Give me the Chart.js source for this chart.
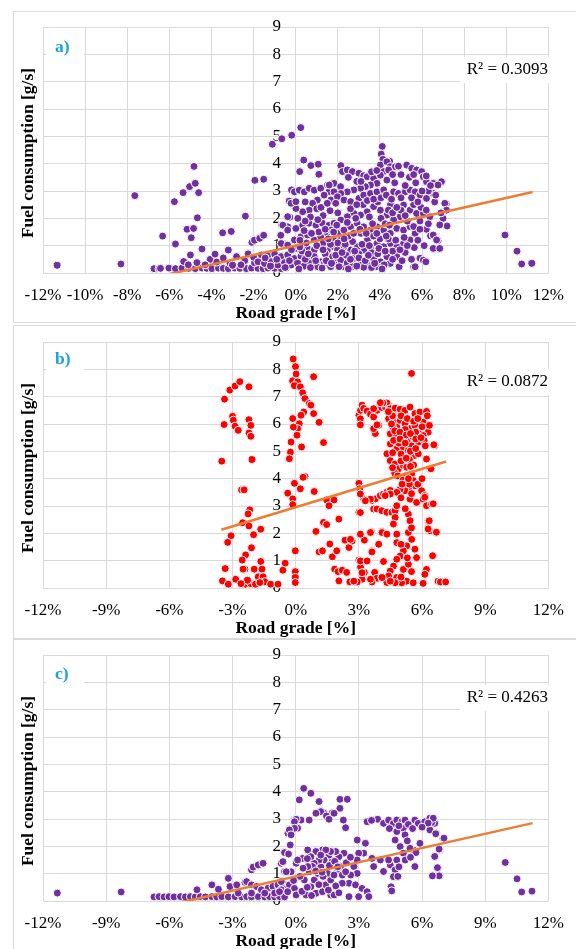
<!DOCTYPE html>
<html>
<head>
<meta charset="utf-8">
<script src="https://cdn.jsdelivr.net/npm/chart.js@4.4.1/dist/chart.umd.min.js"></script>
<style>
  body { margin: 0; background: #fff; width: 576px; height: 949px; overflow: hidden; position: relative; }
  .marco { position: absolute; left: 13px; width: 600px; border: 1px solid #d9d9d9; box-sizing: border-box; }
  canvas { position: absolute; left: 0; }
</style>
</head>
<body>
<div class="marco" style="top:11px;height:312px"></div>
<div class="marco" style="top:325px;height:314px"></div>
<div class="marco" style="top:639px;height:330px"></div>
<canvas id="graficaA" width="576" height="320" style="top:11px"></canvas>
<canvas id="graficaB" width="576" height="320" style="top:325px"></canvas>
<canvas id="graficaC" width="576" height="320" style="top:639px"></canvas>
<script>
// Datos: [pendiente %, consumo g/s]
const puntosA = [
  [-11.33,0.28],[-8.3,0.33],[-7.64,2.83],[-6.73,0.16],[-6.49,0.16],[-6.32,1.35],[-5.76,2.61],[-5.71,1.06],[-5.35,2.94],[-5.04,3.16],
  [-4.77,3.28],[-4.83,3.9],[-4.61,2.94],[-4.67,2.02],[-5.16,1.6],[-4.85,1.63],[-4.96,1.29],[-4.46,0.87],[-3.47,1.47],[-3.06,1.52],
  [-3.21,0.83],[-2.39,2.08],[-1.94,3.39],[-1.52,3.43],[-2.08,1.12],[-1.95,1.2],[-1.71,1.27],[-1.52,1.38],[-1.11,4.71],[-0.66,4.91],
  [-0.19,5.04],[-0.67,1.76],[-0.38,1.69],[-0.28,2.04],[-0.31,2.63],[-0.2,3.04],[-0.71,1.38],[-0.5,1.06],[0.24,5.32],[0.38,4.13],
  [0.19,3.71],[0.72,3.93],[1.07,3.98],[1.1,3.61],[1.63,2.28],[4.11,4.63],[4.06,4.35],[4.14,4.16],[4.46,4.09],[5.27,3.95],
  [4.91,0.23],[5.6,0.23],[9.94,1.39],[10.51,0.8],[10.73,0.33],[11.21,0.35],[6.95,3.34],[6.81,3.24],[7.15,2.52],[7.19,1.72],
  [6.81,0.9],[6.51,0.9],[6.4,1.36],[6.76,1.19],[6.16,0.44],[5.9,0.54],[5.63,0.93],
  [-6.42,0.17],[-6.02,0.18],[-5.71,0.16],[-5.4,0.18],[-5.08,0.17],[-4.77,0.16],[-4.45,0.18],[-4.22,0.17],[-3.98,0.16],[-3.67,0.18],
  [-3.44,0.17],[-3.2,0.16],[-2.89,0.18],[-2.65,0.17],[-2.34,0.16],[-2.1,0.18],[-1.79,0.17],[-1.55,0.16],[-1.32,0.18],[-1.0,0.17],
  [-0.69,0.16],[-0.45,0.18],
  [-5.32,0.42],[-5.0,0.66],[-4.69,0.38],[-4.45,0.88],[-4.06,0.5],[-3.83,0.69],[-3.75,0.4],[-3.44,0.55],[-3.2,0.84],[-3.12,0.36],
  [-2.81,0.6],[-2.42,0.45],[-2.26,0.7],[-1.95,0.38],[-4.3,0.3],[-5.1,0.3],[-3.0,0.28],[-2.6,0.3],[-2.0,0.58],
  [-0.06,2.97],[0.17,3.03],[0.41,2.97],[0.64,3.1],[0.88,3.03],[1.19,3.1],[1.51,3.22],[1.82,3.28],[2.13,3.16],[1.58,2.97],
  [1.35,2.85],[1.03,2.67],[0.8,2.55],[0.64,2.3],[0.33,2.24],[0.01,2.36],[-0.22,2.55],[0.01,2.61],[-0.38,2.06],[-0.61,1.75],
  [-0.38,1.57],[0.01,1.63],[0.33,1.75],[0.64,1.82],[0.96,1.75],[1.27,1.82],[1.58,1.75],[1.9,1.69],[2.21,1.57],[-0.06,1.21],
  [0.25,1.33],[0.56,1.39],[0.88,1.21],[1.19,1.33],[1.51,1.45],[1.82,1.21],[2.13,1.33],[-0.69,1.08],[-0.38,1.02],[0.01,0.9],
  [0.25,1.02],[0.56,0.9],[0.88,0.84],[1.19,0.96],[1.51,0.84],[1.82,0.96],[-1.63,0.66],[-1.32,0.62],[-1.0,0.69],[-0.69,0.6],
  [-0.38,0.66],[-0.06,0.53],[0.25,0.62],[0.56,0.47],[0.88,0.6],[1.19,0.41],[1.51,0.53],[1.82,0.41],[2.13,0.6],[-1.79,0.41],
  [-1.48,0.35],[-1.16,0.41],[-0.85,0.29],[-0.53,0.38],[-0.22,0.29],[0.09,0.35],[0.41,0.25],[0.72,0.35],[1.03,0.23],[1.35,0.33],
  [1.66,0.23],[1.98,0.29],[2.29,0.23],
  [2.14,3.93],[2.22,3.71],[2.45,3.77],[2.69,3.71],[3.0,3.65],[3.23,3.56],[3.39,3.52],[3.7,3.46],[4.02,3.95],[4.33,4.07],
  [4.49,3.89],[4.73,3.89],[4.88,3.91],[5.51,3.83],[5.74,3.77],[5.98,3.71],[6.06,3.52],[6.21,3.34],[6.53,3.28],[6.92,3.34],
  [6.76,3.22],[4.18,3.71],[4.41,3.77],[4.02,3.58],[4.33,3.4],[3.86,3.28],[3.55,3.22],[3.31,3.16],[3.08,3.1],[2.76,3.04],
  [2.45,2.97],[2.14,2.91],[1.82,2.97],[1.59,3.22],[1.67,2.67],[1.98,2.79],[2.29,2.67],[2.61,2.61],[3.0,2.73],[3.23,2.85],
  [3.55,2.91],[3.86,2.97],[4.18,3.04],[4.65,2.97],[4.88,2.91],[5.2,2.97],[5.43,3.04],[5.67,2.97],[5.9,2.85],[6.21,2.73],
  [6.53,2.91],[7.08,2.55],[7.16,2.3],[7.0,2.0],[6.84,1.76],[6.53,1.39],[6.69,1.21],[6.53,0.9],[6.84,0.9],[6.06,0.47],
  [6.18,0.41],[5.67,0.23],[4.49,0.35],[4.8,0.6],
  [5.12,2.49],[5.43,2.3],[5.74,2.18],[6.06,2.18],[6.37,2.06],[4.96,2.06],[4.65,1.94],[4.33,2.12],[4.02,2.3],[3.7,2.43],
  [3.39,2.24],[3.08,2.12],[2.76,2.18],[2.45,2.06],[2.14,1.94],[1.82,1.82],[1.67,1.57],[1.98,1.45],[2.29,1.57],[2.61,1.69],
  [2.92,1.82],[3.23,1.69],[3.55,1.57],[3.86,1.69],[4.18,1.57],[4.49,1.45],[4.8,1.63],[5.12,1.57],[5.43,1.69],[5.67,1.45],
  [5.43,1.21],[5.12,1.08],[4.8,0.96],[4.49,1.08],[4.18,0.96],[3.86,1.08],[3.55,0.9],[3.23,0.84],[2.92,0.96],[2.61,0.84],
  [2.29,0.96],[1.98,0.84],[1.75,0.6],[2.14,0.47],[2.45,0.35],[2.76,0.53],[3.08,0.41],[3.39,0.29],[3.7,0.53],[4.02,0.41],
  [4.33,0.6],[2.06,0.23],[2.69,0.23],[3.23,0.21],[3.86,0.23],
  [0.5,1.1],[1.3,1.1],[2.0,1.1],[2.7,1.15],[3.4,1.2],[4.0,1.25],[0.4,1.55],[1.1,1.5],[1.8,1.5],[2.5,1.35],
  [3.1,1.45],[3.7,1.35],[0.7,2.05],[1.3,2.1],[2.0,2.2],[2.6,2.35],[3.2,2.5],[3.9,2.6],[4.5,2.5],[4.4,2.3],
  [5.0,2.3],[5.3,1.9],[5.9,1.9],[6.2,1.6],[5.8,1.2],[6.1,1.0],[5.2,0.75],[5.5,0.5],[4.6,0.8],[3.0,0.7],
  [2.4,0.65],[3.6,0.75],[4.2,0.3],[1.4,0.7],[0.3,0.8],[-0.2,0.85],[1.0,2.35],[0.1,2.0],[2.9,3.35],[2.5,3.5],
  [3.6,3.7],[5.0,3.6],[5.4,3.5],[5.7,3.3],[6.3,3.0],[6.6,2.6],[6.9,2.2],[6.65,2.85],[4.7,3.3],[5.2,3.2],
  [0.15,0.15],[0.45,0.5],[0.7,0.2],[0.95,0.45],[1.25,0.18],[1.45,0.45],[1.7,0.35],[1.9,0.65],[0.2,0.95],[0.6,0.7],
  [1.0,1.0],[1.3,0.85],[1.65,1.05],[-0.3,0.45],[-0.5,0.2],[-0.9,0.5],[-1.2,0.25],[-1.45,0.55],
  [2.2,0.75],[2.5,0.15],[2.6,0.5],[2.9,0.25],[3.0,0.55],[3.3,0.45],[3.45,0.65],[3.6,0.2],[3.75,0.35],[3.9,0.7],
  [4.1,0.15],[2.35,1.05],[2.8,0.8],[3.15,1.05],[3.5,1.0],[3.95,0.9],
  [4.25,0.8],[4.4,1.25],[4.6,0.5],[4.75,1.2],[4.95,0.85],[5.05,0.45],[5.3,1.0],[5.15,1.3],[4.3,1.35],
  [0.2,1.2],[0.45,1.9],[0.75,1.45],[1.05,1.95],[1.4,1.6],[1.55,1.25],[1.95,1.75],[2.3,1.25],[2.45,1.85],[2.75,1.45],
  [2.85,2.0],[3.05,1.6],[3.35,1.45],[3.5,2.05],[3.65,1.8],[3.85,1.45],[4.05,2.0],[4.25,1.8],[4.45,1.75],[4.6,2.2],
  [4.8,2.4],[5.2,2.1],[5.6,2.5],[5.95,2.4],[6.2,2.3],[5.6,1.7],[5.9,1.6],[6.3,1.8],
  [0.45,2.6],[1.2,2.4],[1.5,2.55],[1.9,2.55],[2.9,2.5],[3.4,2.65],[3.7,2.7],[4.05,2.75],[4.3,2.85],[4.55,2.7],
  [5.0,2.75],[5.5,2.75],[5.8,2.6],[6.0,3.0],[6.4,3.2],[3.1,3.35],[3.85,3.75],[4.6,3.6],[5.6,3.6],[6.2,3.55]
];

const puntosB = [
  [-3.51,4.64],[-3.38,6.91],[-3.4,5.98],[-3.13,7.24],[-2.88,7.39],[-2.65,7.55],[-2.22,7.36],[-3.0,6.28],[-2.96,6.14],[-2.88,5.92],
  [-2.73,5.77],[-2.22,6.16],[-2.13,5.95],[-2.22,5.67],[-2.13,5.55],[-2.07,4.7],[-2.57,3.59],[-2.45,3.59],[-2.18,2.86],[-2.26,2.71],
  [-2.52,2.39],[-2.22,2.27],[-1.66,2.15],[-2.0,1.95],[-3.07,1.91],[-3.23,1.67],[-2.1,1.47],[-2.38,1.21],[-2.54,1.02],[-2.41,0.69],
  [-2.5,0.69],[-1.97,0.69],[-1.66,0.97],[-1.6,0.69],[-0.5,0.91],[-0.61,0.65],[-3.35,0.71],[-3.48,0.26],[-3.2,0.14],[-2.85,0.32],
  [-2.38,0.14],[-2.13,0.16],[-1.91,0.14],[-1.78,0.41],[-1.55,0.41],[-1.47,0.23],[-1.19,0.14],[-0.84,0.14],[-2.29,0.28],[-2.6,0.16],
  [-1.7,0.2],
  [-0.12,8.38],[-0.01,8.1],[0.02,7.83],[-0.15,7.58],[0.09,7.54],[-0.06,7.4],[0.22,7.36],[0.33,7.14],[0.44,6.93],[0.64,6.75],
  [0.72,6.69],[0.85,7.73],[0.85,6.38],[0.38,6.44],[0.25,6.32],[0.17,6.01],[0.09,5.83],[0.06,5.59],[-0.14,6.2],[-0.11,5.89],
  [0.28,5.16],[-0.22,5.34],[-0.25,4.97],[-0.3,4.73],[0.44,4.08],[0.35,4.05],[0.22,3.63],[-0.06,3.83],[-0.38,3.47],[-0.14,3.26],
  [-0.14,3.05],[0.88,3.53],[1.11,6.06],[1.32,5.32],[1.47,3.22],[1.82,3.22],[1.58,3.01],[1.32,2.4],[1.47,2.32],[2.05,2.52],
  [0.96,2.07],[1.11,1.32],[1.27,1.36],[1.62,1.61],[1.74,1.14],[1.95,1.36],[1.85,0.69],[2.01,0.6],[2.05,0.26],[2.21,0.65],
  [2.34,1.75],[2.53,1.48],[2.68,1.73],[2.42,0.57],[2.57,0.22],[2.81,0.22],[-0.02,1.36],[-0.02,0.6],[-0.02,0.38],[-0.02,0.2],
  [3.0,6.32],[3.08,6.5],[3.15,6.69],[3.23,6.57],[3.39,6.48],[3.55,6.36],[3.7,6.26],[3.86,6.5],[4.09,6.6],[4.25,6.63],
  [4.41,6.69],[4.57,6.57],[4.33,6.77],[4.14,6.77],[4.8,6.57],[5.04,6.53],[3.08,5.99],[3.67,5.85],[3.78,5.65],[3.94,5.95],
  [3.0,3.83],[3.04,3.63],[3.08,3.44],[3.23,3.26],[3.39,3.2],[3.62,3.2],[3.78,3.26],[4.02,3.38],[4.17,3.44],[4.33,3.5],
  [4.49,3.57],[3.7,2.89],[3.86,2.89],[4.09,2.83],[4.33,2.77],[4.57,2.77],[3.0,2.77],[3.08,1.97],[3.26,1.75],[3.0,1.02],
  [3.08,0.77],[3.26,0.57],[3.15,0.32],[2.92,0.22],[3.39,1.0],[3.59,2.06],[3.62,1.36],[3.75,0.57],[3.86,0.35],[3.62,0.22],
  [4.09,2.07],[4.17,0.97],[4.09,0.38],[4.33,0.2],
  [3.7,6.56],[4.02,6.78],[4.49,6.56],[4.72,6.58],[4.96,6.54],[5.19,6.5],[5.43,6.62],[5.66,6.38],[5.9,6.44],[6.21,6.46],
  [3.07,6.19],[3.07,5.97],[3.7,5.83],[3.86,5.97],
  [4.41,6.19],[4.64,6.07],[4.8,5.89],[4.96,6.13],[5.19,6.01],[5.43,5.83],[5.66,5.95],[5.9,5.76],[6.05,6.07],[6.29,5.89],
  [6.29,5.7],[6.6,5.21],[4.49,5.64],[4.8,5.58],[5.11,5.64],[5.35,5.46],[5.58,5.52],[5.82,5.34],[6.05,5.58],[4.49,5.27],
  [4.8,5.09],[5.11,5.15],[5.35,5.03],[5.66,4.85],[5.82,4.91],[6.21,4.72],[6.37,4.36],[4.33,4.91],[4.49,4.66],[4.72,4.54],
  [4.88,4.36],[5.11,4.48],[5.27,4.42],[5.51,4.17],[5.58,3.93],[5.66,3.74],[5.35,3.62],[5.19,3.56],[4.96,3.62],[4.8,3.5],
  [4.49,3.44],[4.25,3.38],[3.55,3.25],[3.31,3.19],[3.07,3.44],[4.72,2.83],[4.8,3.01],[5.43,3.25],[5.74,3.13],[6.05,3.25],
  [6.21,3.01],[6.45,3.07],[5.98,3.56],[6.13,3.38],[5.35,2.7],[5.43,2.46],[4.72,2.58],[4.64,2.34],[4.8,1.97],[5.35,2.03],
  [5.51,1.78],[5.27,1.54],[5.11,1.36],[4.96,1.17],[4.8,1.05],[4.64,0.8],[4.49,0.62],[4.41,0.44],[4.8,0.38],[5.11,0.68],
  [5.35,0.87],[5.66,1.42],[5.74,1.11],[6.21,0.68],[6.13,0.5],[5.27,0.25],[5.03,0.19],[4.72,0.19],[4.49,0.25],[5.58,0.19],
  [6.05,0.17],[6.76,0.25],[7.07,0.25],[6.29,2.46],[6.37,2.09],[6.68,2.03],[6.29,2.21],[6.52,1.17],[3.07,2.76],[3.07,1.97],
  [3.55,2.03],[4.1,2.03],[2.68,1.72],[3.62,1.32],[3.94,1.6],[3.07,0.99],[3.39,0.99],[3.15,0.56],[3.55,0.32],[4.1,0.38],
  [2.76,0.25],[2.6,1.78],[4.33,1.97],[4.8,1.66],
  [5.5,7.85],[6.56,5.24],[6.42,4.36],[6.87,0.22],[7.12,0.22],[6.34,2.46],[6.68,2.04],[6.5,1.18],[6.29,2.16],[6.13,3.32],
  [6.53,3.08],
  [4.6,6.3],[5.0,6.3],[5.3,6.2],[5.6,6.1],[5.2,5.8],[4.9,5.3],[5.5,5.2],[5.0,4.9],[5.4,4.7],[5.6,4.5],
  [4.7,4.2],[5.2,4.1],[5.4,3.8],[5.0,3.3],[5.2,2.9],[5.5,2.2],[5.0,1.6],[5.3,1.1],[5.5,0.6],[5.0,0.4],
  [6.0,5.9],[6.1,5.4],[5.7,5.7],[4.6,5.9],[4.4,6.45],[5.8,6.2],[6.25,6.3],[6.35,5.95],
  [4.55,6.0],[4.7,5.75],[4.95,5.7],[5.25,5.6],[5.45,5.65],[5.7,5.45],[5.95,5.5],[6.15,5.2],[4.65,5.4],[4.95,5.45],
  [5.2,5.3],[5.45,5.0],[5.7,5.1],[4.6,4.95],[5.0,4.65],[5.25,4.75],[5.45,4.45],[4.6,4.4],[4.85,4.1],[5.1,3.95],
  [5.35,4.0],[5.5,3.45],[5.05,3.8],[5.8,3.8],[6.0,4.0]
];

const puntosC = [
  [-11.32,0.29],[-8.29,0.33],
  [-6.73,0.15],[-6.49,0.16],[-6.25,0.15],[-6.02,0.16],[-5.78,0.15],[-5.47,0.16],[-5.24,0.15],[-5.0,0.16],
  [-4.77,0.15],[-4.53,0.16],[-4.29,0.15],[-3.98,0.16],[-3.75,0.15],[-3.51,0.16],[-3.2,0.15],[-2.88,0.16],[-2.57,0.15],[-2.33,0.16],
  [-2.1,0.15],[-1.78,0.16],[-1.47,0.15],[-1.24,0.16],[-1.0,0.15],[-0.77,0.16],[-0.53,0.15],
  [-4.69,0.41],[-3.98,0.59],[-3.67,0.43],[-3.2,0.83],[-3.12,0.53],[-2.8,0.59],[-2.41,0.68],[-2.33,0.71],[-2.1,0.59],[-1.86,0.53],
  [-1.63,0.41],[-1.31,0.47],[-1.08,0.53],[-0.84,0.59],[-0.61,0.65],[-0.37,0.53],[-2.73,0.29],[-2.1,0.29],[-1.47,0.29],[-1.0,0.29],
  [-0.69,0.41],[-2.1,1.14],[-2.02,1.24],[-1.78,1.32],[-1.55,1.38],[-0.69,1.38],[-0.53,1.77],[-0.34,1.72],[-0.26,2.05],[-0.3,2.63],
  [-0.37,2.48],[-0.06,2.97],[0.02,1.38],[-0.53,1.08],[-0.22,1.08],
  [0.38,4.12],[0.72,3.94],[1.11,3.64],[0.17,3.7],[2.1,3.72],[2.45,3.72],[2.1,3.39],[1.74,3.23],[1.35,3.21],[1.19,3.27],
  [0.96,3.21],[0.64,2.96],[0.25,2.96],[0.02,2.99],[-0.06,2.9],[0.09,2.66],[-0.06,2.66],[-0.3,2.6],[-0.22,2.42],[1.46,3.11],
  [1.58,2.99],[1.82,3.21],[2.26,2.96],[2.37,2.68],[2.92,2.23],[3.31,2.11],[3.39,2.9],[3.89,2.99],[4.17,2.84],[4.41,2.96],
  [4.64,2.84],[4.8,2.96],[5.04,2.9],[5.19,2.96],[5.11,2.66],[4.8,2.54],[5.19,2.42],[5.66,2.96],[5.82,2.84],[6.13,2.9],
  [6.37,3.03],[6.6,2.84],[6.37,2.6],[6.68,2.48],[6.99,2.29],[6.84,1.87],[6.6,1.62],[6.76,1.2],[6.53,0.92],[6.84,0.92],
  [5.66,1.26],[5.58,1.87],[5.9,2.11],[5.71,1.77],[5.43,1.93],[4.96,1.99],[4.72,2.23],[5.11,1.75],[4.8,1.5],[4.49,1.32],
  [4.72,1.14],[4.64,0.89],[4.53,0.52],[4.56,0.37],[4.17,1.08],[4.41,1.5],[3.7,1.26],[4.02,1.5],[3.62,1.56],[3.23,1.75],
  [2.99,1.75],[2.92,1.5],[2.76,1.26],[2.92,1.01],[2.61,0.95],[2.53,0.65],[2.84,0.59],[3.15,0.46],[3.39,0.34],[3.47,0.16],
  [2.99,0.16],[2.53,0.16],[2.21,0.65],[1.98,1.07],[1.74,1.5],[1.58,1.68],[1.27,1.87],[0.96,1.81],[0.57,1.87],[0.33,1.56],
  [0.09,1.5],[-0.22,1.07],[-0.45,1.07],[-0.61,1.44],[-0.69,0.71],[-0.3,0.59],[-0.06,0.46],[-0.38,0.34],[0.02,0.22],[-0.77,0.34],
  [0.49,0.22],[0.72,0.52],[0.88,0.77],[1.04,1.01],[1.19,1.26],[1.35,1.5],[1.11,1.5],[0.88,1.38],[0.64,1.07],[0.41,0.77],
  [0.96,0.28],[1.27,0.34],[1.43,0.59],[1.66,0.77],[1.66,0.22],[1.82,0.22],[1.51,1.01],[1.82,0.95],[2.13,1.26],[2.21,0.95],
  [2.37,1.07],[2.29,1.75],[2.05,1.62],[1.9,1.81],[1.66,1.81],[1.43,1.87],[1.19,1.68],[0.72,1.62],[0.8,1.26],[0.57,1.26],
  [9.95,1.41],[10.51,0.81],[10.73,0.33],[11.22,0.36],[7.04,2.3],[6.81,1.9],[6.73,1.22],[6.81,0.92],[6.49,0.92],[6.6,1.63],
  [6.65,2.46],[6.46,2.87],[6.53,3.03],[6.29,2.85],
  [0.3,0.35],[0.55,0.5],[0.75,0.2],[1.1,0.6],[1.3,0.9],[1.55,0.4],[1.9,0.55],[2.05,0.3],[0.35,1.2],[0.55,1.55],
  [0.95,1.1],[1.25,1.05],[1.6,1.3],[1.85,1.45],[2.0,1.25],[2.4,1.4],[2.6,1.6],[0.2,0.9],[-0.1,0.75],[4.9,2.75],
  [5.35,2.8],[5.55,2.65],[6.0,2.7],[4.45,2.65],[3.6,2.95],[5.3,2.2],[4.9,1.25],[5.2,1.5],[5.45,1.6],[4.85,0.9]
];

// Lineas de tendencia (extremos)
const tendenciaA = [[-11.4,-0.98],[11.25,2.96]];
const tendenciaB = [[-3.53,2.13],[7.15,4.63]];
const tendenciaC = [[-11.4,-1.08],[11.25,2.85]];

const pasoGradoA = 2;
const pasoGradoBC = 3;
const ticksConsumo = [0, 9];

const fuente = "'Liberation Serif', 'Times New Roman', serif";

// Textos que Excel pone dentro del area del grafico
const textosPanel = {
  id: "textosPanel",
  afterDraw(chart, args, opts) {
    const { ctx, chartArea } = chart;
    ctx.save();
    // titulo eje Y
    ctx.fillStyle = "#000";
    ctx.font = "bold 17.5px " + fuente;
    ctx.textAlign = "center";
    ctx.textBaseline = "middle";
    ctx.translate(28, (chartArea.top + chartArea.bottom) / 2 + 3);
    ctx.rotate(-Math.PI / 2);
    ctx.fillText("Fuel consumption [g/s]", 0, 0);
    ctx.restore();

    ctx.save();
    // etiqueta a) b) c)
    ctx.fillStyle = "#fff";
    ctx.fillRect(chartArea.left + 3, chartArea.top + 3, 38, 29);
    ctx.fillStyle = "#1ba1e2";
    ctx.font = "bold 17.5px " + fuente;
    ctx.textAlign = "left";
    ctx.textBaseline = "middle";
    ctx.fillText(opts.letra, 55, chartArea.top + opts.dyLetra);

    // R²
    ctx.fillStyle = "#fff";
    ctx.fillRect(460, chartArea.top + opts.dyR2 - 13, 92, 26);
    ctx.fillStyle = "#000";
    ctx.font = "17px " + fuente;
    ctx.textAlign = "right";
    ctx.fillText(opts.r2, 548, chartArea.top + opts.dyR2);
    ctx.restore();
  }
};

function crearGrafica(id, puntos, tendencia, color, paso, letra, r2, top, dyLetra, dyR2) {
  const ctx = document.getElementById(id).getContext("2d");
  return new Chart(ctx, {
    type: "scatter",
    data: {
      datasets: [{
        type: "line",
        data: tendencia.map(([x, y]) => ({ x, y })),
        borderColor: "#ed7d31",
        borderWidth: 2.5,
        pointRadius: 0,
        fill: false
      }, {
        data: puntos.map(([x, y]) => ({ x, y })),
        backgroundColor: color,
        borderColor: "#ffffff",
        borderWidth: 1,
        pointRadius: 4,
        clip: false
      }]
    },
    options: {
      responsive: false,
      animation: false,
      devicePixelRatio: 1,
      layout: { padding: { left: 43, right: 23, top: top, bottom: 320 - top - 246 - 51 } },
      plugins: {
        legend: { display: false },
        tooltip: { enabled: false },
        textosPanel: { letra, r2, dyLetra, dyR2 }
      },
      scales: {
        x: {
          type: "linear",
          min: -12,
          max: 12,
          ticks: {
            stepSize: paso,
            padding: 12,
            autoSkip: false,
            maxRotation: 0,
            minRotation: 0,
            color: "#000",
            font: { family: fuente, size: 17 },
            callback: v => v + "%"
          },
          grid: { color: "#d9d9d9", drawTicks: false },
          border: { display: false },
          title: {
            display: true,
            text: "Road grade [%]",
            color: "#000",
            font: { family: fuente, size: 17.5, weight: "bold" },
            padding: { top: 0, bottom: 0 }
          },
          afterFit: eje => { eje.height = 51; }
        },
        y: {
          type: "linear",
          position: { x: -0.7 },
          min: ticksConsumo[0],
          max: ticksConsumo[1],
          ticks: {
            stepSize: 1,
            color: "#000",
            font: { family: fuente, size: 17 }
          },
          grid: { color: "#d9d9d9", drawTicks: false },
          border: { display: false }
        }
      }
    },
    plugins: [textosPanel]
  });
}

crearGrafica("graficaA", puntosA, tendenciaA, "#7030a0", pasoGradoA, "a)", "R² = 0.3093", 16, 20, 43);
crearGrafica("graficaB", puntosB, tendenciaB, "#ff0000", pasoGradoBC, "b)", "R² = 0.0872", 17, 17, 40);
crearGrafica("graficaC", puntosC, tendenciaC, "#7030a0", pasoGradoBC, "c)", "R² = 0.4263", 16, 19, 43);
</script>
</body>
</html>
